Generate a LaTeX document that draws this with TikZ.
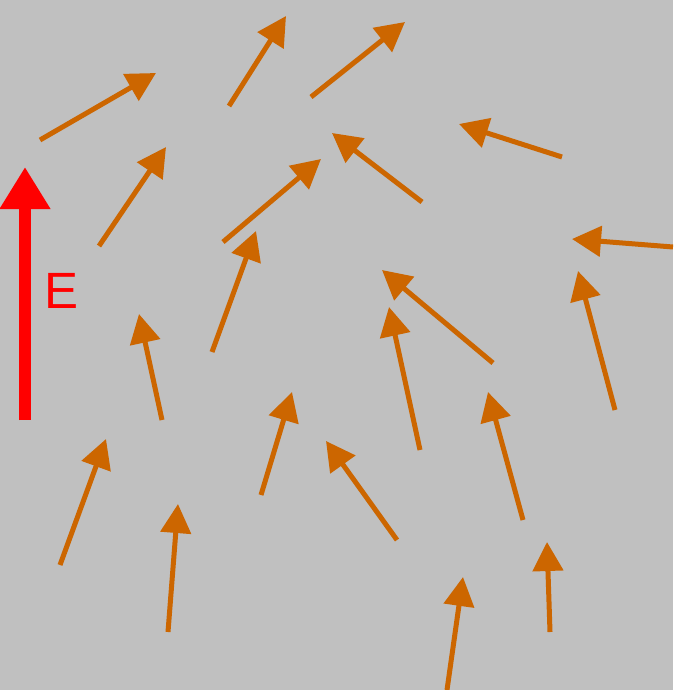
\documentclass[tikz,border=0pt]{standalone}
\usepackage{fontspec}
\setsansfont{Liberation Sans}
\usetikzlibrary{arrows.meta}
\definecolor{dipole}{HTML}{CC6600}
\definecolor{bg}{HTML}{C0C0C0}

\begin{document}
\begin{tikzpicture}[x=1pt, y=-1pt, dipole/.style={draw=dipole, line width=5pt, -{Triangle[width=30pt, length=29pt]}}, field/.style={draw=red, line width=12pt, -{Triangle[width=48pt, length=42pt]}}]
\fill[bg] (0,0) rectangle (673,690);
\useasboundingbox (0,0) rectangle (673,690);
% dipoles: tail / head
\foreach \tx/\ty/\hx/\hy in {40/140/156/73, 229/106/286/16, 311/97/405/22, 562/157/459/124, 99/246/166/147, 223/242/321/159, 422/202/332/133, 673/247/572/239, 212/352/256/231, 162/420/139/314, 493/363/382/270, 420/450/389/307, 615/410/578/271, 60/565/106/439, 261/495/292/392, 397/540/326/441, 523/520/488/392, 168/632/178/504, 447/690/463/577, 550/632/547/542}
  \draw[dipole] (\tx,\ty) -- (\hx,\hy);
% applied field
\coordinate (Etail) at (25,420);
\coordinate (Ehead) at (25,167);
\draw[field] (Etail) -- (Ehead);
\node[text=red, font=\sffamily\fontsize{51}{51}\selectfont, anchor=base west, inner sep=0pt] (Elabel) at (44,308) {E};
\end{tikzpicture}
\end{document}
